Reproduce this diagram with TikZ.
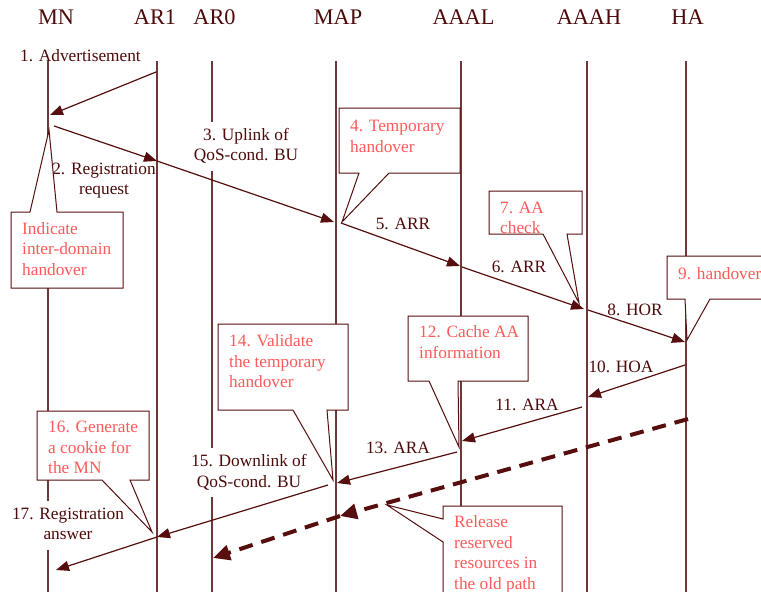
\documentclass[tikz,border=0pt]{standalone}
\usepackage{fontspec}
\setmainfont{Liberation Serif}
\usetikzlibrary{arrows.meta}
\definecolor{ink}{HTML}{4D0A0A}
\definecolor{wire}{HTML}{560E0E}
\definecolor{life}{HTML}{6E3838}
\definecolor{notered}{HTML}{FF5A5A}
\begin{document}
\begin{tikzpicture}[x=1pt,y=-1pt,
  hdr/.style={text=ink,font=\fontsize{22.3}{26}\selectfont,anchor=base,inner sep=0pt},
  msg/.style={text=ink,font=\fontsize{17.3}{20.5}\selectfont,anchor=base,inner sep=0pt},
  msgbg/.style={msg,fill=white,inner sep=4pt},
  note/.style={text=notered,font=\fontsize{17.3}{20.5}\selectfont,anchor=base west,inner sep=0pt},
  lifeline/.style={draw=life,line width=1.1pt},
  callout/.style={draw=wire,fill=white,line width=1pt,line join=miter},
  sig/.style={draw=wire,line width=1.2pt,-{Triangle[length=13pt,width=10pt]}},
  release/.style={draw=wire,line width=4pt,dash pattern=on 14pt off 9pt,-{Triangle[length=17pt,width=15pt]}}
]
\clip (0,0) rectangle (761,592);
\fill[white] (0,0) rectangle (761,592);

% entity headers
\node[hdr] (MN)   at (56,24)    {MN};
\node[hdr] (AR1)  at (155,24)   {AR1};
\node[hdr] (AR0)  at (214.5,24) {AR0};
\node[hdr] (MAP)  at (338,24)   {MAP};
\node[hdr] (AAAL) at (463.5,24) {AAAL};
\node[hdr] (AAAH) at (589,24)   {AAAH};
\node[hdr] (HA)   at (687.5,24) {HA};

% lifelines
\foreach \n/\x in {MN/48,AR1/157,AR0/212,MAP/336,AAAL/461,AAAH/587,HA/686}{
  \coordinate (\n-top) at (\x,61);
  \coordinate (\n-bot) at (\x,592);
  \draw[lifeline] (\n-top) -- (\n-bot);
}

% message end points on the lifelines
\coordinate (p1s) at (156,72);   \coordinate (p1e) at (50,115);
\coordinate (p2s) at (54,126);   \coordinate (p2e) at (157,161);
\coordinate (p3e) at (334,222);
\coordinate (p5s) at (341,223);  \coordinate (p5e) at (460,266);
\coordinate (p6s) at (462,267);  \coordinate (p6e) at (584,309);
\coordinate (p8s) at (588,310);  \coordinate (p8e) at (685,342);
\coordinate (p10s) at (685,365); \coordinate (p10e) at (588,397);
\coordinate (p11s) at (582,407); \coordinate (p11e) at (462,441);
\coordinate (p13s) at (457,452); \coordinate (p13e) at (337,483);
\coordinate (p15s) at (328,485); \coordinate (p15e) at (157,537);
\coordinate (p17e) at (56,570);
\coordinate (rs) at (688,419);   \coordinate (rm) at (340,516);
\coordinate (re) at (213,558);

% message labels (the boxed ones hide the lifeline behind them)
\node[msg] (l1) at (80.5,61.5) {1. Advertisement};
\node[msg] (l2) at (104,174) {\begin{tabular}[t]{@{}c@{}}2. Registration\\request\end{tabular}};
\node[msgbg] (l3) at (246,140) {\begin{tabular}[t]{@{}c@{}}3. Uplink of\\QoS-cond. BU\end{tabular}};
\node[msg] (l5) at (403,229) {5. ARR};
\node[msg] (l6) at (519,272) {6. ARR};
\node[msg] (l8) at (635,315) {8. HOR};
\node[msg] (l10) at (621,372) {10. HOA};
\node[msg] (l11) at (527,410) {11. ARA};
\node[msg] (l13) at (398,453) {13. ARA};
\node[msgbg] (l15) at (249,466.7) {\begin{tabular}[t]{@{}c@{}}15. Downlink of\\QoS-cond. BU\end{tabular}};
\node[msgbg] (l17) at (68,519) {\begin{tabular}[t]{@{}c@{}}17. Registration\\answer\end{tabular}};

% callouts
\draw[callout] (11,212) -- (30,212) -- (49,130) -- (57,212) -- (123,212)
  -- (123,288) -- (11,288) -- cycle;
\node[note] (nIdh) at (22,234) {\begin{tabular}[t]{@{}l@{}}Indicate\\inter-domain\\handover\end{tabular}};

\draw[callout] (339,108) -- (460,108) -- (460,173) -- (389,173) -- (342,222)
  -- (359,173) -- (339,173) -- cycle;
\node[note] (n4) at (350,131.7) {\begin{tabular}[t]{@{}l@{}}4. Temporary\\handover\end{tabular}};

\draw[callout] (489,191) -- (582,191) -- (582,234) -- (567,234) -- (579,303)
  -- (543,234) -- (489,234) -- cycle;
\node[note] (n7) at (500,213.3) {\begin{tabular}[t]{@{}l@{}}7. AA\\check\end{tabular}};

\draw[callout] (667,256) -- (775,256) -- (775,299) -- (710,299) -- (687,340)
  -- (685,299) -- (667,299) -- cycle;
\node[note] (n9) at (678,279) {9. handover};

\draw[callout] (408,316) -- (528,316) -- (528,381) -- (458,381) -- (459,447)
  -- (429,381) -- (408,381) -- cycle;
\node[note] (n12) at (419,337.7) {\begin{tabular}[t]{@{}l@{}}12. Cache AA\\information\end{tabular}};

\draw[callout] (218,324) -- (348,324) -- (348,410) -- (327,410) -- (333,480)
  -- (293,410) -- (218,410) -- cycle;
\node[note] (n14) at (229,346.7) {\begin{tabular}[t]{@{}l@{}}14. Validate\\the temporary\\handover\end{tabular}};

\draw[callout] (37,411) -- (149,411) -- (149,480) -- (130,480) -- (152,532)
  -- (102,480) -- (37,480) -- cycle;
\node[note] (n16) at (48,432.7) {\begin{tabular}[t]{@{}l@{}}16. Generate\\a cookie for\\the MN\end{tabular}};

\draw[callout] (443,506) -- (562,506) -- (562,600) -- (443,600) -- (443,542)
  -- (387,505) -- (443,519) -- cycle;
\node[note] (nrel) at (454,527.7) {\begin{tabular}[t]{@{}l@{}}Release\\reserved\\resources in\\the old path\end{tabular}};

% signalling messages
\draw[sig] (p1s) -- (p1e);
\draw[sig] (p2s) -- (p2e);
\draw[sig] (p2e) -- (p3e);
\draw[sig] (p5s) -- (p5e);
\draw[sig] (p6s) -- (p6e);
\draw[sig] (p8s) -- (p8e);
\draw[sig] (p10s) -- (p10e);
\draw[sig] (p11s) -- (p11e);
\draw[sig] (p13s) -- (p13e);
\draw[sig] (p15s) -- (p15e);
\draw[sig] (p15e) -- (p17e);

% resource release along the old path
\draw[release] (rs) -- (rm);
\draw[release] (rm) -- (re);
\end{tikzpicture}
\end{document}
